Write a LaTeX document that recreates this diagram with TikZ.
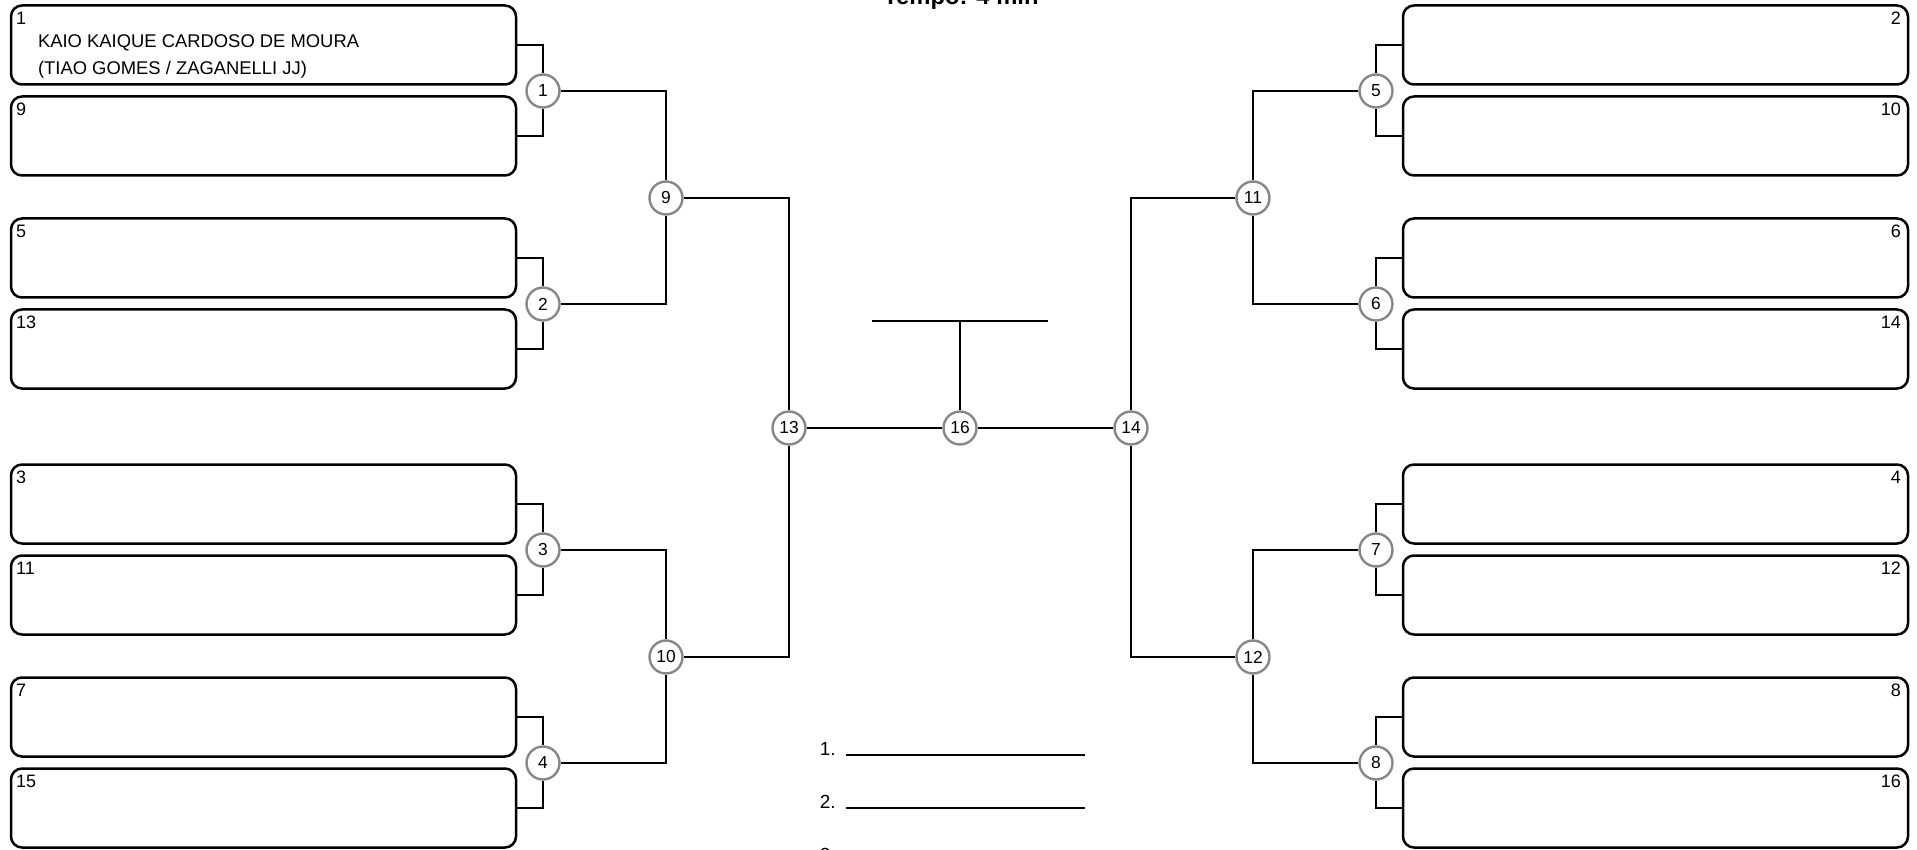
\documentclass[tikz,border=0pt]{standalone}
\usepackage{fontspec}
\setmainfont{Liberation Sans}
\usepackage{tikz}
\usetikzlibrary{calc, positioning}
\usepackage{xcolor}
\definecolor{ringgray}{RGB}{135, 135, 135}

\tikzset{
  entry/.style={draw, line width=1.25pt, rounded corners=5.5pt, minimum width=252.5pt, minimum height=39.5pt, inner sep=0pt},
  bout/.style={circle, draw=ringgray, line width=1.2pt, fill=white, minimum size=16.5pt, inner sep=0pt, font=\fontsize{8.7}{10}\selectfont},
  link/.style={line width=1.2pt},
  seedno/.style={font=\fontsize{9}{10}\selectfont, inner sep=0pt},
}

\begin{document}
\begin{tikzpicture}[x=0.5pt, y=-0.5pt]
  \useasboundingbox (0,0) rectangle (1917,850);

  % title, cut by the top edge
  \node[font=\fontsize{11.9}{13}\selectfont\bfseries, anchor=base] (tempo) at (961,5) {Tempo: 4 min};

  % left half entries
  \foreach \s/\y in {1/45, 9/136, 5/258, 13/349, 3/504, 11/595, 7/717, 15/808} {
    \node[entry] (s\s) at (263.5,\y) {};
    \node[seedno, anchor=north west] at ([shift={(3pt,-3.5pt)}]s\s.north west) {\s};
  }
  % right half entries
  \foreach \s/\y in {2/45, 10/136, 6/258, 14/349, 4/504, 12/595, 8/717, 16/808} {
    \node[entry] (s\s) at (1655.5,\y) {};
    \node[seedno, anchor=north east] at ([shift={(-4pt,-3.5pt)}]s\s.north east) {\s};
  }

  % athlete in slot 1
  \node[font=\fontsize{9.2}{11}\selectfont, anchor=base west] (name1) at (31,48) {KAIO KAIQUE CARDOSO DE MOURA};
  \node[font=\fontsize{9.2}{11}\selectfont, anchor=base west] (team1) at (31,75) {(TIAO GOMES / ZAGANELLI JJ)};

  % bouts
  \foreach \m/\y in {1/91, 2/304, 3/550, 4/763} \node[bout] (m\m) at (543,\y) {\m};
  \foreach \m/\y in {5/91, 6/304, 7/550, 8/763} \node[bout] (m\m) at (1376,\y) {\m};
  \node[bout] (m9) at (666,198) {9};
  \node[bout] (m10) at (666,657) {10};
  \node[bout] (m11) at (1253,198) {11};
  \node[bout] (m12) at (1253,657) {12};
  \node[bout] (m13) at (789,428) {13};
  \node[bout] (m16) at (960,428) {16};
  \node[bout] (m14) at (1131,428) {14};

  % entries to first bouts
  \foreach \a/\b/\m in {1/9/1, 5/13/2, 3/11/3, 7/15/4, 2/10/5, 6/14/6, 4/12/7, 8/16/8} {
    \draw[link] (s\a) -| (m\m);
    \draw[link] (s\b) -| (m\m);
  }
  % later rounds
  \foreach \a/\b/\m in {1/2/9, 3/4/10, 5/6/11, 7/8/12, 9/10/13, 11/12/14} {
    \draw[link] (m\a) -| (m\m);
    \draw[link] (m\b) -| (m\m);
  }
  \draw[link] (m13) -- (m16);
  \draw[link] (m16) -- (m14);

  % winner bar
  \coordinate (barL) at (872,321);
  \coordinate (barR) at (1048,321);
  \draw[link] (barL) -- (barR);
  \draw[link] (m16) -- (m16 |- barL);

  % podium places
  \foreach \p/\y in {1/755, 2/808, 3/861} {
    \node[font=\fontsize{9.5}{11}\selectfont, anchor=base east, inner sep=0pt] (p\p) at (836,\y) {\p.};
    \draw[link] (846,\y) -- (1085,\y);
  }
\end{tikzpicture}
\end{document}
